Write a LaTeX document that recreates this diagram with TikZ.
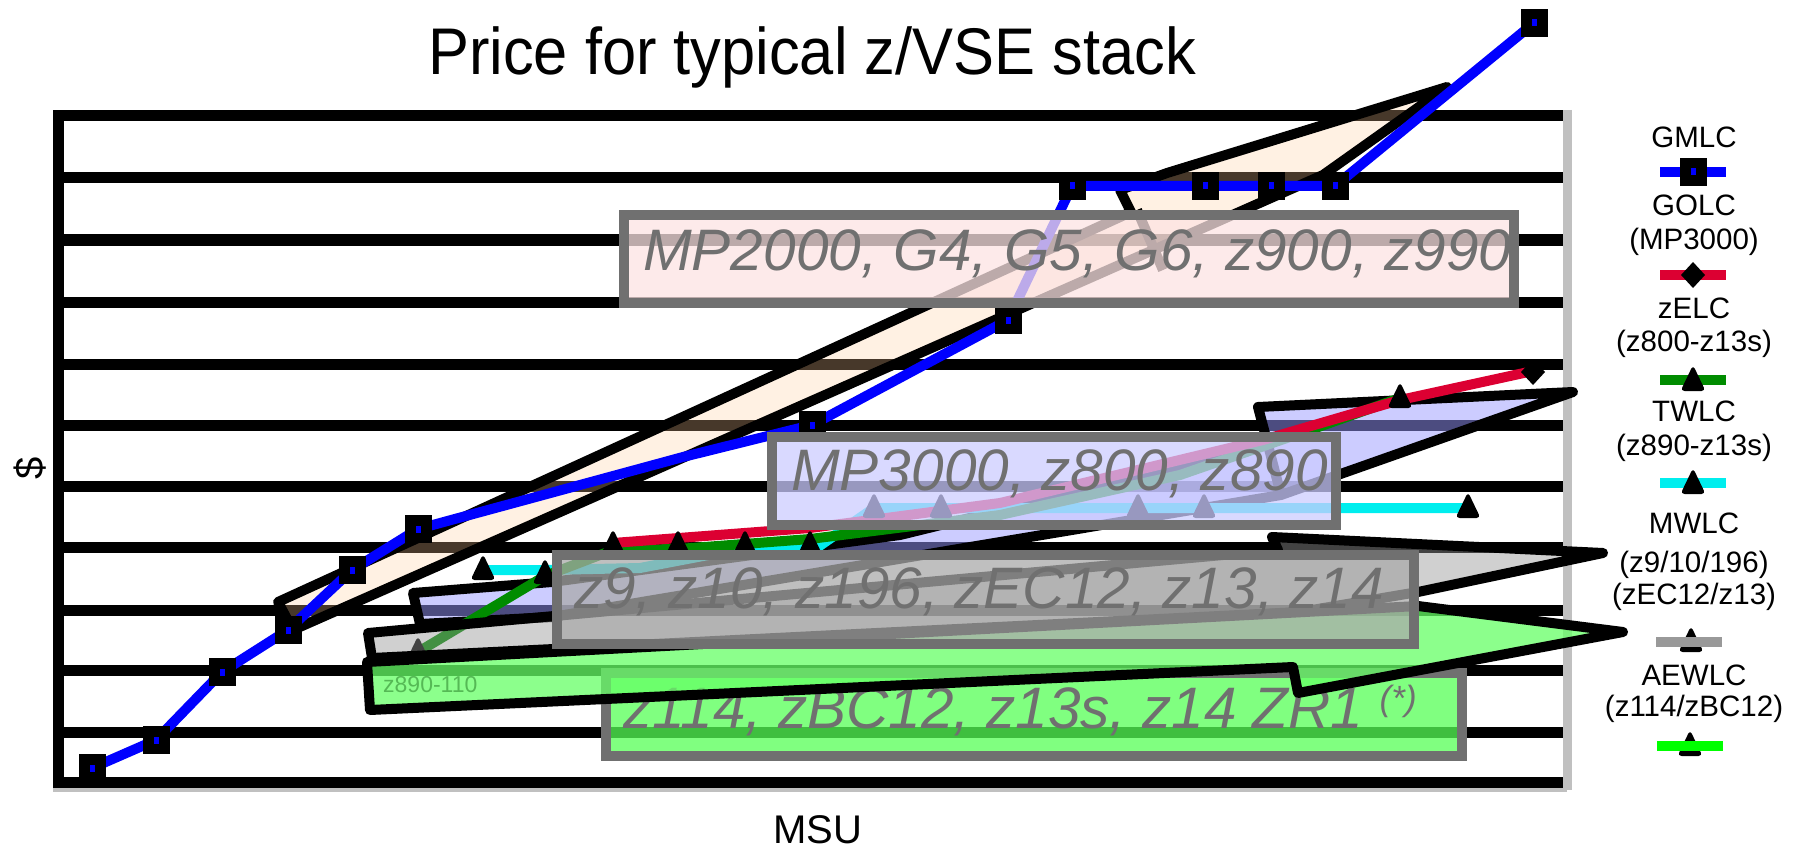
\documentclass[tikz,border=0pt]{standalone}
\usepackage{fontspec}
\setmainfont{Liberation Sans}
\definecolor{boxgray}{RGB}{112,112,112}
\definecolor{crimsonred}{RGB}{220,0,50}
\definecolor{darkgreen}{RGB}{0,140,0}
\definecolor{cyanline}{RGB}{0,238,238}
\definecolor{peach}{RGB}{255,204,153}
\definecolor{periwinkle}{RGB}{153,153,255}
\definecolor{calloutgray}{RGB}{150,150,150}
\definecolor{calloutgreen}{RGB}{102,255,102}
\definecolor{pinkbox}{RGB}{252,227,227}
\definecolor{lavbox}{RGB}{204,204,255}
\definecolor{graybox}{RGB}{170,170,170}
\definecolor{greenbox}{RGB}{85,255,85}
\definecolor{framegray}{RGB}{192,192,192}
\definecolor{legendgray}{RGB}{153,153,153}
\definecolor{limegreen}{RGB}{0,255,0}
\definecolor{labelgreen}{RGB}{85,185,85}
\tikzset{
  hline/.style={line width=11pt, black},
  callout/.style={draw=black, line width=10pt, line join=round},
  labelbox/.style={draw=boxgray, line width=10pt, fill opacity=0.75},
  series/.style={line width=10pt, line join=round},
  boxtext/.style={anchor=base west, inner sep=0pt, text=boxgray, font=\fontsize{58.5}{60}\selectfont\itshape},
  legtext/.style={anchor=base, inner sep=0pt, font=\fontsize{29.5}{30}\selectfont},
  legline/.style={line width=10pt},
  sqmark/.pic={\fill[black] (-13.5,-14) rectangle (13.5,14); \fill[blue] (-2.5,-3.5) rectangle (2.5,3.5);},
  trimark/.pic={\fill[black, rounded corners=4pt] (-12.5,10) -- (0,-16) -- (12.5,10) -- cycle;},
  diamark/.pic={\fill[black] (0,-13) -- (12,0) -- (0,13) -- (-12,0) -- cycle;}
}
\begin{document}
\begin{tikzpicture}[x=1pt,y=-1pt]
\useasboundingbox (0,0) rectangle (1799,845);
% plot frame
\draw[framegray, line width=9pt] (1567,110) -- (1567,790);
\draw[framegray, line width=5pt] (55,112) -- (55,789) -- (1567,789);
% gridlines and axis
\foreach \y in {116,178,240,302,364,425,486,547,610,670,732,782}
  \draw[hline] (53,\y) -- (1563,\y);
\draw[hline] (58.5,110.5) -- (58.5,787.5);
% peach callout
\draw[callout, fill=peach, fill opacity=0.28] (278,602) -- (1131,212) -- (1120,190) -- (1167,173) -- (1447,87) -- (1323,175) -- (293,630) -- cycle;
\draw[callout] (1137,210) -- (1163,270);
% lavender callout
\draw[callout, fill=periwinkle, fill opacity=0.5] (413,593) -- (552,582) -- (900,535) -- (1268,445) -- (1258,407) -- (1573,392) -- (1281,495) -- (552,617) -- (420,624) -- cycle;
\draw[callout] (1268,445) -- (1281,495);
% series
\draw[series, cyanline] (483,570) -- (545,570) -- (640,568) -- (745,548) -- (818,547) -- (874,508) -- (1468,508);
\draw[series, darkgreen] (418,652) -- (545,576) -- (613,550) -- (678,549) -- (810,539) -- (1000,515) -- (1180,475) -- (1310,430) -- (1400,398);
\draw[series, crimsonred] (613,543) -- (810,528) -- (1000,503) -- (1263,440) -- (1400,400) -- (1533,371);
\draw[series, blue] (92,768) -- (156,740) -- (222,672) -- (288,630) -- (352,570) -- (418,529) -- (683,457) -- (812,425) -- (1008,320) -- (1072,186) -- (1335,186) -- (1534,23);
\foreach \x/\y in {92/768,156/740,222/672,288/630,352/570,418/529,812/425,1008/320,1072/186,1205/186,1271/186,1335/186,1534/23}
  \pic at (\x,\y) {sqmark};
\foreach \x/\y in {418/652,483/570,545/574,613/545,678/545,745/545,810/545,874/508,941/508,1138/508,1204/508,1468/508,1400/398}
  \pic at (\x,\y) {trimark};
\pic at (1533,372) {diamark};
% MP2000 and MP3000 boxes
\draw[labelbox, fill=pinkbox] (624,215) rectangle (1514,303);
\node[boxtext] (mptwo) at (643,270) {MP2000, G4, G5, G6, z900, z990};
\draw[labelbox, fill=lavbox] (772,437) rectangle (1336,525);
\node[boxtext] (mpthree) at (791,490) {MP3000, z800, z890};
% gray callout
\draw[callout, fill=calloutgray, fill opacity=0.45] (368,633) -- (1278,550) -- (1272,537) -- (1603,553) -- (1418,592) -- (1300,612) -- (372,658) -- cycle;
% z114 box
\draw[labelbox, fill=greenbox] (606,673) rectangle (1462,756);
\node[boxtext] (zbc) at (623,728) {z114, zBC12, z13s, z14 ZR1 \raisebox{18pt}{\fontsize{35}{35}\selectfont(*)}};
% green callout
\draw[callout, fill=calloutgreen, fill opacity=0.75] (367,662) -- (552,652) -- (1418,606) -- (1623,632) -- (1298,693) -- (1293,667) -- (370,710) -- cycle;
\node[anchor=base west, inner sep=0pt, text=labelgreen, font=\fontsize{23}{23}\selectfont] (zeight) at (383,692) {z890-110};
% z9 box
\draw[labelbox, fill=graybox] (557,555) rectangle (1414,644);
\node[boxtext] (znine) at (574,608) {z9, z10, z196, zEC12, z13, z14};
% legend
\draw[legline, blue] (1660,172) -- (1726,172);
\pic at (1693,172) {sqmark};
\draw[legline, crimsonred] (1660,275) -- (1726,275);
\pic at (1693,275) {diamark};
\draw[legline, darkgreen] (1660,380) -- (1726,380);
\pic at (1693,381) {trimark};
\draw[legline, cyanline] (1660,483) -- (1726,483);
\pic at (1693,484) {trimark};
\pic at (1691,642) {trimark};
\draw[legline, legendgray] (1656,642) -- (1722,642);
\pic at (1690,746) {trimark};
\draw[legline, limegreen] (1657,746) -- (1723,746);
\node[legtext] (lg1) at (1694,148) {GMLC};
\node[legtext] (lg2) at (1694,215) {GOLC};
\node[legtext] (lg3) at (1694,250) {(MP3000)};
\node[legtext] (lg4) at (1694,318) {zELC};
\node[legtext] (lg5) at (1694,351) {(z800-z13s)};
\node[legtext] (lg6) at (1694,421) {TWLC};
\node[legtext] (lg7) at (1694,455) {(z890-z13s)};
\node[legtext] (lg8) at (1694,533) {MWLC};
\node[legtext] (lg9) at (1694,572) {(z9/10/196)};
\node[legtext] (lg10) at (1694,604) {(zEC12/z13)};
\node[legtext] (lg11) at (1694,685) {AEWLC};
\node[legtext] (lg12) at (1694,716) {(z114/zBC12)};
% title and axis labels
\node[anchor=base, inner sep=0pt] (title) at (812,75) {\fontsize{66}{66}\selectfont\scalebox{0.93}[1]{Price for typical z/VSE stack}};
\node[anchor=base, inner sep=0pt, font=\fontsize{40}{40}\selectfont] (msu) at (818,843) {MSU};
\node[rotate=90, inner sep=0pt, font=\fontsize{40}{40}\selectfont] (dollar) at (30,468) {\$};
\end{tikzpicture}
\end{document}
